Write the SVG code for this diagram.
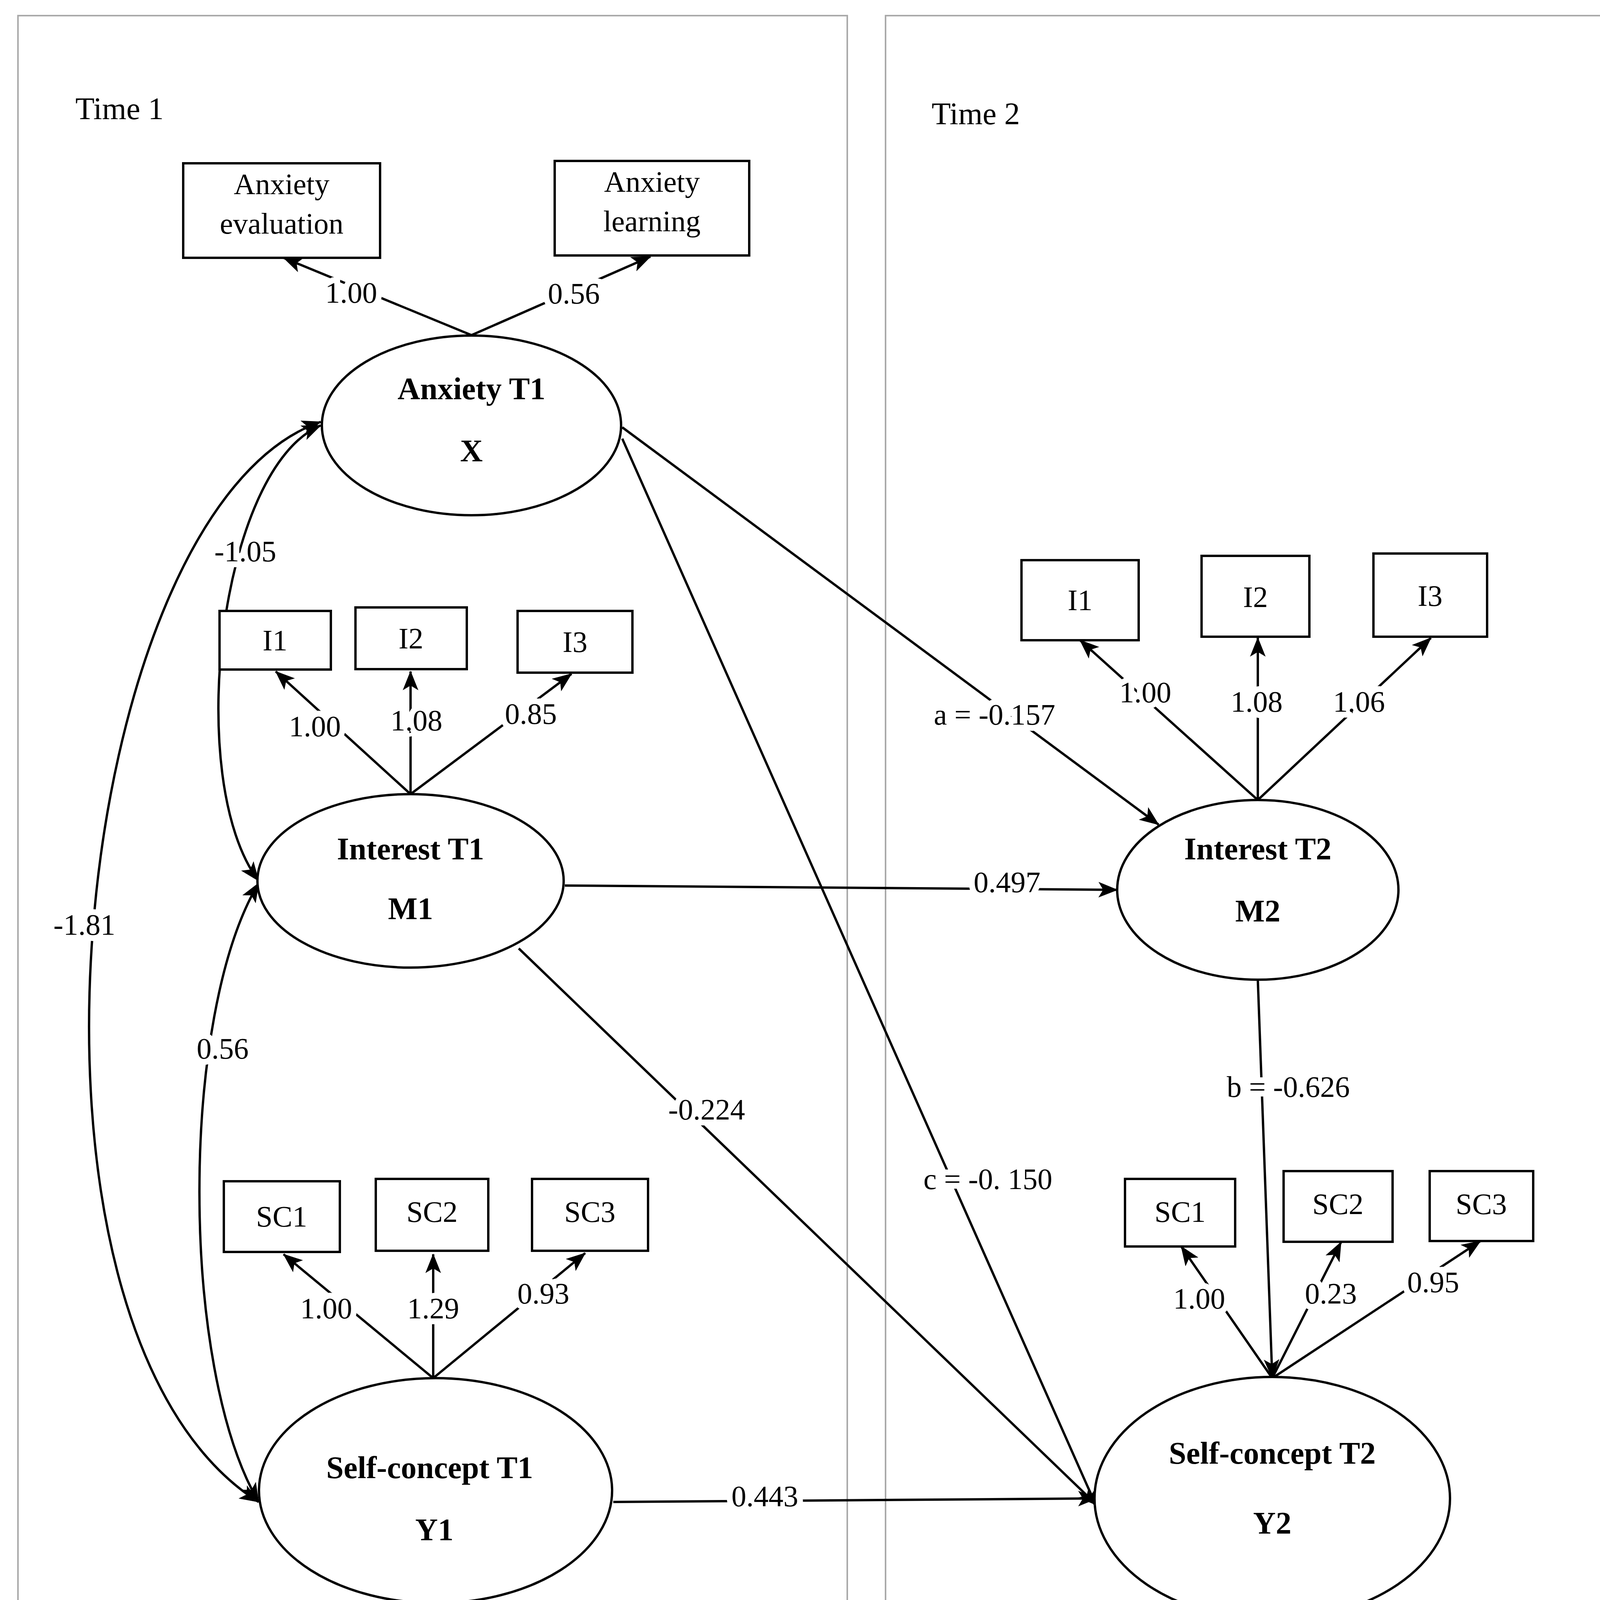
<svg xmlns="http://www.w3.org/2000/svg" width="4291" height="4513" viewBox="0 0 4291 4513">
<style>
.panel{fill:none;stroke:#aaa;stroke-width:4}
.box{fill:#fff;stroke:#000;stroke-width:6}
.ell{fill:#fff;stroke:#000;stroke-width:6}
.ln{fill:none;stroke:#000;stroke-width:6}
text{font-family:"Liberation Serif","DejaVu Serif",serif;fill:#000;text-anchor:middle}
.t{font-size:76px}
.nt{font-size:80px;font-weight:bold}
.lb{font-size:76px;paint-order:stroke;stroke:#fff;stroke-width:30px}
.hd{font-size:80px;text-anchor:start}
</style>
<defs>
<marker id="ah" markerUnits="userSpaceOnUse" markerWidth="50" markerHeight="40" refX="48" refY="20" orient="auto-start-reverse" viewBox="0 0 50 40">
<path d="M0,0 L50,20 L0,40 L12,20 Z" fill="#000"/>
</marker>
</defs>
<rect width="4291" height="4513" fill="#fff"/>
<rect class="panel" x="46" y="40" width="2123" height="4433"/>
<rect class="panel" x="2267" y="40" width="1972" height="4433"/>
<text class="hd" x="193" y="305">Time 1</text>
<text class="hd" x="2385" y="318">Time 2</text>
<g id="connectors">
<path class="ln" marker-end="url(#ah)" d="M1207,858 L726,660"/>
<path class="ln" marker-end="url(#ah)" d="M1207,858 L1665,657"/>
<path class="ln" marker-end="url(#ah)" d="M1051,2033 L706,1719"/>
<path class="ln" marker-end="url(#ah)" d="M1051,2033 L1051,1719"/>
<path class="ln" marker-end="url(#ah)" d="M1051,2033 L1463,1725"/>
<path class="ln" marker-end="url(#ah)" d="M1109,3528 L726,3211"/>
<path class="ln" marker-end="url(#ah)" d="M1109,3528 L1109,3211"/>
<path class="ln" marker-end="url(#ah)" d="M1109,3528 L1498,3208"/>
<path class="ln" marker-end="url(#ah)" d="M3220,2048 L2765,1639"/>
<path class="ln" marker-end="url(#ah)" d="M3220,2048 L3220,1633"/>
<path class="ln" marker-end="url(#ah)" d="M3220,2048 L3663,1633"/>
<path class="ln" marker-end="url(#ah)" d="M3257,3528 L3024,3191"/>
<path class="ln" marker-end="url(#ah)" d="M3257,3528 L3433,3180"/>
<path class="ln" marker-end="url(#ah)" d="M3257,3528 L3790,3177"/>
<path class="ln" marker-end="url(#ah)" d="M1593,1094 L2966,2111"/>
<path class="ln" marker-end="url(#ah)" d="M1593,1123 L2808,3859"/>
<path class="ln" marker-end="url(#ah)" d="M1446,2267 L2860,2278"/>
<path class="ln" marker-end="url(#ah)" d="M1328,2428 L2808,3853"/>
<path class="ln" marker-end="url(#ah)" d="M3220,2508 L3257,3528"/>
<path class="ln" marker-end="url(#ah)" d="M1570,3845 L2808,3836"/>
<path class="ln" marker-start="url(#ah)" marker-end="url(#ah)" d="M821,1089 C560,1200 470,2000 662,2255"/>
<path class="ln" marker-start="url(#ah)" marker-end="url(#ah)" d="M662,2261 C460,2600 460,3500 662,3845"/>
<path class="ln" marker-start="url(#ah)" marker-end="url(#ah)" d="M821,1080 C180,1300 -40,3400 662,3845"/>
<text class="lb" x="899" y="775">1.00</text>
<text class="lb" x="1469" y="777">0.56</text>
<text class="lb" x="806" y="1885">1.00</text>
<text class="lb" x="1066" y="1870">1.08</text>
<text class="lb" x="1359" y="1853">0.85</text>
<text class="lb" x="835" y="3375">1.00</text>
<text class="lb" x="1109" y="3375">1.29</text>
<text class="lb" x="1391" y="3337">0.93</text>
<text class="lb" x="2932" y="1798">1.00</text>
<text class="lb" x="3217" y="1822">1.08</text>
<text class="lb" x="3479" y="1822">1.06</text>
<text class="lb" x="3070" y="3350">1.00</text>
<text class="lb" x="3407" y="3337">0.23</text>
<text class="lb" x="3669" y="3308">0.95</text>
<text class="lb" x="2546" y="1855">a = -0.157</text>
<text class="lb" x="2529" y="3044">c = -0. 150</text>
<text class="lb" x="2578" y="2284">0.497</text>
<text class="lb" x="1809" y="2866">-0.224</text>
<text class="lb" x="3298" y="2808">b = -0.626</text>
<text class="lb" x="1958" y="3856">0.443</text>
<text class="lb" x="628" y="1437">-1.05</text>
<text class="lb" x="570" y="2710">0.56</text>
<text class="lb" x="216" y="2393">-1.81</text>
</g>
<g id="anxiety-evaluation"><rect class="box" x="469" y="418" width="504" height="242"/><text class="t" x="721" y="497">Anxiety</text><text class="t" x="721" y="598">evaluation</text></g>
<g id="anxiety-learning"><rect class="box" x="1420" y="412" width="498" height="242"/><text class="t" x="1669" y="491">Anxiety</text><text class="t" x="1669" y="592">learning</text></g>
<g id="anxiety-t1"><ellipse class="ell" cx="1207" cy="1089" rx="383" ry="230"/><text class="nt" x="1207" y="1022">Anxiety T1</text><text class="nt" x="1207" y="1181">X</text></g>
<g id="i1-t1"><rect class="box" x="562" y="1564" width="285" height="150"/><text class="t" x="704" y="1665">I1</text></g>
<g id="i2-t1"><rect class="box" x="910" y="1555" width="285" height="158"/><text class="t" x="1052" y="1660">I2</text></g>
<g id="i3-t1"><rect class="box" x="1325" y="1564" width="294" height="158"/><text class="t" x="1472" y="1669">I3</text></g>
<g id="interest-t1"><ellipse class="ell" cx="1051" cy="2255" rx="392" ry="222"/><text class="nt" x="1051" y="2200">Interest T1</text><text class="nt" x="1051" y="2353">M1</text></g>
<g id="sc1-t1"><rect class="box" x="573" y="3024" width="297" height="181"/><text class="t" x="721" y="3140">SC1</text></g>
<g id="sc2-t1"><rect class="box" x="962" y="3018" width="288" height="184"/><text class="t" x="1106" y="3128">SC2</text></g>
<g id="sc3-t1"><rect class="box" x="1362" y="3018" width="297" height="184"/><text class="t" x="1510" y="3128">SC3</text></g>
<g id="selfconcept-t1"><ellipse class="ell" cx="1115" cy="3816" rx="452" ry="288"/><text class="nt" x="1100" y="3784">Self-concept T1</text><text class="nt" x="1112" y="3943">Y1</text></g>
<g id="i1-t2"><rect class="box" x="2615" y="1434" width="300" height="205"/><text class="t" x="2765" y="1562">I1</text></g>
<g id="i2-t2"><rect class="box" x="3076" y="1423" width="276" height="207"/><text class="t" x="3214" y="1554">I2</text></g>
<g id="i3-t2"><rect class="box" x="3516" y="1417" width="291" height="213"/><text class="t" x="3661" y="1551">I3</text></g>
<g id="interest-t2"><ellipse class="ell" cx="3220" cy="2278" rx="360" ry="230"/><text class="nt" x="3220" y="2200">Interest T2</text><text class="nt" x="3220" y="2359">M2</text></g>
<g id="sc1-t2"><rect class="box" x="2880" y="3018" width="282" height="173"/><text class="t" x="3021" y="3128">SC1</text></g>
<g id="sc2-t2"><rect class="box" x="3286" y="2998" width="279" height="181"/><text class="t" x="3425" y="3108">SC2</text></g>
<g id="sc3-t2"><rect class="box" x="3660" y="2998" width="265" height="179"/><text class="t" x="3792" y="3108">SC3</text></g>
<g id="selfconcept-t2"><ellipse class="ell" cx="3257" cy="3836" rx="455" ry="311"/><text class="nt" x="3257" y="3747">Self-concept  T2</text><text class="nt" x="3257" y="3926">Y2</text></g>
</svg>
